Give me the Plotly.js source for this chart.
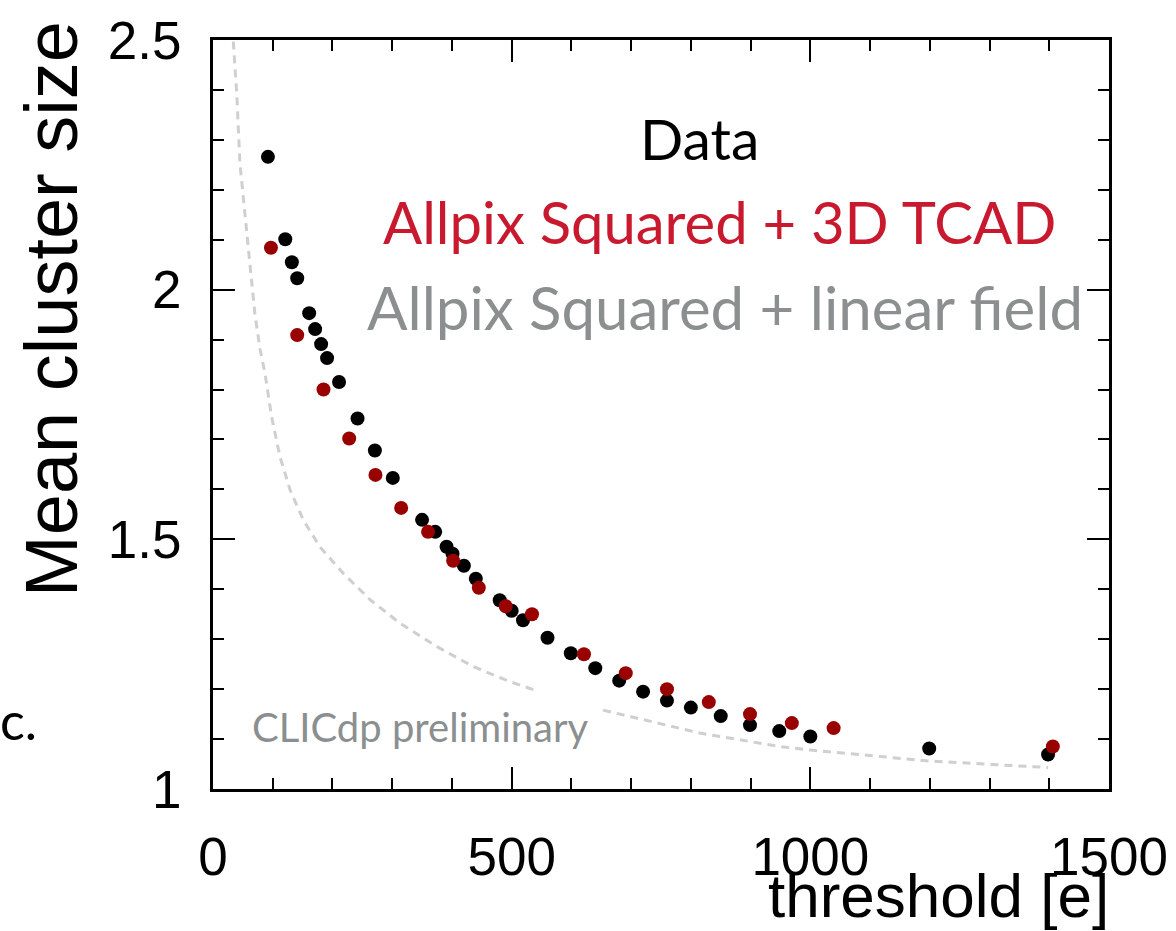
<!DOCTYPE html>
<html>
<head>
<meta charset="utf-8">
<script src="https://cdn.plot.ly/plotly-3.0.1.min.js"></script>
<style>html,body{margin:0;padding:0;background:#fff;}#chart{width:1176px;height:931px;}</style>
</head>
<body>
<div id="chart"></div>
<script>
// Data: measured mean cluster size vs threshold
const dataThreshold = [92,121,132,141,161,171,181,191,211,242,271,301,350,372,391,401,420,440,480,500,519,560,599,640,680,720,760,800,850,899,948,1000,1199,1398];
const dataSize      = [2.266,2.101,2.055,2.023,1.953,1.921,1.891,1.863,1.815,1.742,1.678,1.623,1.539,1.515,1.485,1.471,1.447,1.421,1.378,1.357,1.338,1.303,1.272,1.242,1.217,1.195,1.177,1.163,1.146,1.128,1.116,1.105,1.081,1.069];

// Allpix Squared + 3D TCAD
const tcadThreshold = [97,141,185,228,272,315,360,402,445,490,534,621,691,760,830,899,969,1039,1406];
const tcadSize      = [2.084,1.909,1.800,1.702,1.629,1.563,1.515,1.457,1.403,1.366,1.350,1.270,1.232,1.200,1.174,1.150,1.132,1.122,1.085];

// Allpix Squared + linear field (dashed curve, gap where hidden)
const linThreshold = [34,40,45,54,62,70,79,87,98,112,129,151,179,218,263,313,375,436,497,539,null,653,815,949,1000,1199,1398];
const linSize      = [2.497,2.387,2.254,2.146,2.053,1.953,1.879,1.833,1.746,1.666,1.599,1.539,1.485,1.432,1.379,1.332,1.285,1.245,1.215,1.198,null,1.158,1.112,1.085,1.078,1.056,1.043];

const xTitle = "threshold [e]";
const yTitle = "Mean cluster size";
const legendTexts = ["Data", "Allpix Squared + 3D TCAD", "Allpix Squared + linear field"];

const traces = [
  {x: linThreshold, y: linSize, mode: 'lines', type: 'scatter', connectgaps: false,
   line: {color: '#cfcfcf', width: 3, dash: '8px,6px'}, hoverinfo: 'skip', name: legendTexts[2]},
  {x: dataThreshold, y: dataSize, mode: 'markers', type: 'scatter',
   marker: {color: '#000000', size: 14}, name: legendTexts[0]},
  {x: tcadThreshold, y: tcadSize, mode: 'markers', type: 'scatter',
   marker: {color: '#990000', size: 14}, name: legendTexts[1]}
];

const axisCommon = {
  showline: true, linecolor: '#000', linewidth: 3, mirror: 'ticks',
  ticks: 'inside', ticklen: 22, tickwidth: 2, tickcolor: '#000',
  showgrid: false, zeroline: false,
  tickfont: {family: 'Liberation Sans, Arial, sans-serif', size: 53, color: '#000'}
};

const layout = {
  width: 1176, height: 931,
  margin: {l: 213, r: 67, t: 40, b: 142},
  paper_bgcolor: '#fff', plot_bgcolor: '#fff',
  showlegend: false,
  xaxis: Object.assign({}, axisCommon, {
    range: [0, 1500], dtick: 500, tick0: 0, ticklabelstandoff: 19,
    minor: {ticks: 'inside', ticklen: 11, tickwidth: 2, tickcolor: '#000', dtick: 100, showgrid: false}
  }),
  yaxis: Object.assign({}, axisCommon, {
    range: [1, 2.5], dtick: 0.5, tick0: 1, ticklabelstandoff: 18,
    minor: {ticks: 'inside', ticklen: 11, tickwidth: 2, tickcolor: '#000', dtick: 0.1, showgrid: false}
  }),
  annotations: [
    {text: yTitle, xref: 'paper', yref: 'paper', x: -0.1797, y: 0.641, textangle: -90,
     xanchor: 'center', yanchor: 'middle', showarrow: false,
     font: {family: 'Liberation Sans, Arial, sans-serif', size: 74, color: '#000'}},
    {text: xTitle, xref: 'paper', yref: 'paper', x: 1.001, y: -0.189,
     xanchor: 'right', yanchor: 'bottom', showarrow: false, borderpad: 0,
     font: {family: 'Liberation Sans, Arial, sans-serif', size: 62, color: '#000'}},
    {text: legendTexts[0], xref: 'paper', yref: 'paper', x: 0.5435, y: 0.869,
     xanchor: 'center', yanchor: 'middle', showarrow: false,
     font: {family: 'Lato, sans-serif', size: 57, color: '#000'}},
    {text: legendTexts[1], xref: 'paper', yref: 'paper', x: 0.5658, y: 0.758,
     xanchor: 'center', yanchor: 'middle', showarrow: false,
     font: {family: 'Lato, sans-serif', size: 58, color: '#c8192e'}},
    {text: legendTexts[2], xref: 'paper', yref: 'paper', x: 0.5714, y: 0.644,
     xanchor: 'center', yanchor: 'middle', showarrow: false,
     font: {family: 'Lato, sans-serif', size: 60, color: '#8b8f90'}},
    {text: 'CLICdp preliminary', xref: 'paper', yref: 'paper', x: 0.2321, y: 0.083,
     xanchor: 'center', yanchor: 'middle', showarrow: false,
     font: {family: 'Lato, sans-serif', size: 40, color: '#8b8f90'}},
    {text: 'c.', xref: 'paper', yref: 'paper', x: -0.2400, y: 0.0925,
     xanchor: 'left', yanchor: 'middle', showarrow: false,
     font: {family: 'Lato, sans-serif', size: 52, color: '#000'}}
  ]
};

Plotly.newPlot('chart', traces, layout, {displayModeBar: false, staticPlot: true});
</script>
</body>
</html>
